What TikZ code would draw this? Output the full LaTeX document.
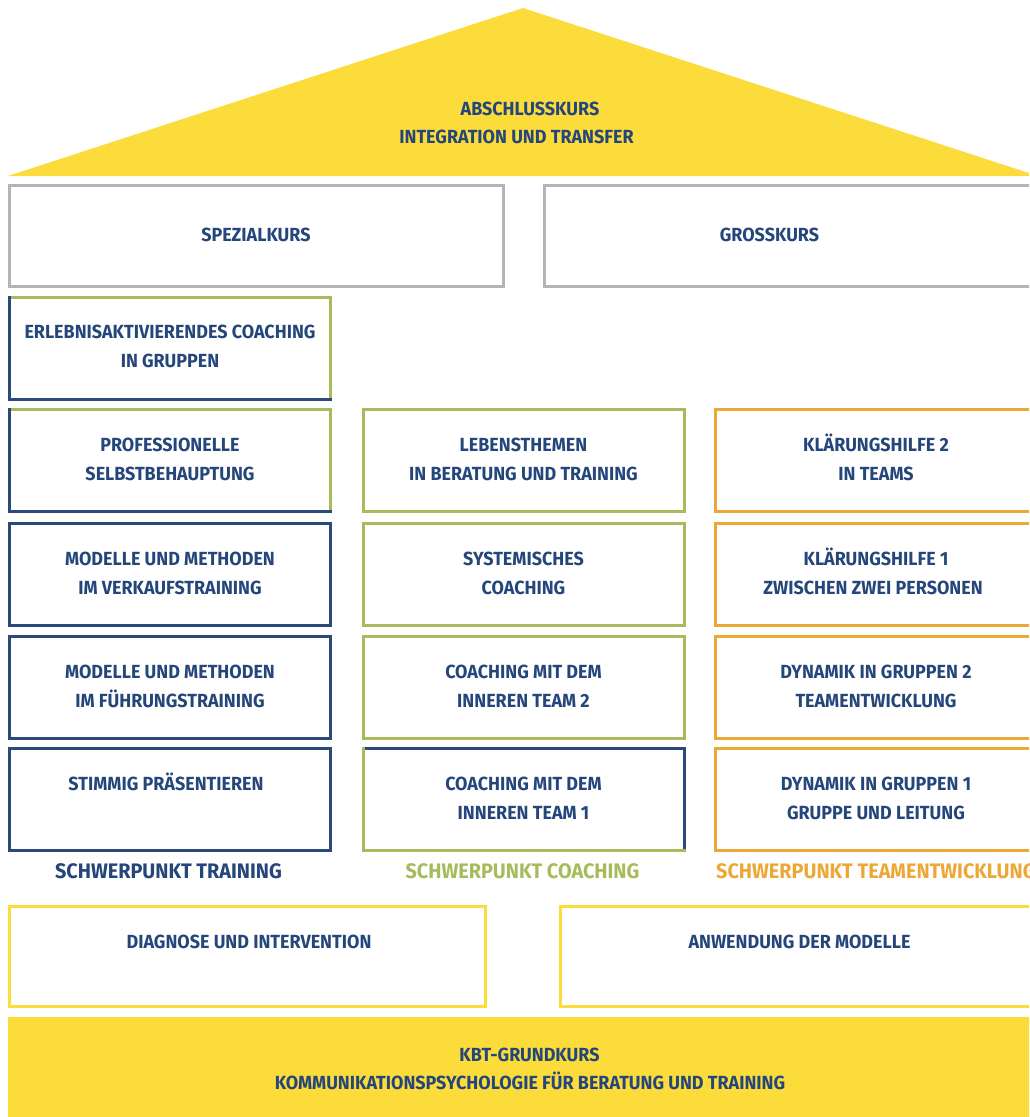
\documentclass[tikz,border=0pt]{standalone}
\usepackage{fontspec}
\setmainfont{Fira Sans}[FakeStretch=0.945]
\definecolor{navy}{HTML}{24467A}
\definecolor{bblue}{HTML}{2A4A7A}
\definecolor{bgreen}{HTML}{A8BB5C}
\definecolor{borange}{HTML}{EDA735}
\definecolor{byellow}{HTML}{FCDC3B}
\definecolor{bgray}{HTML}{B4B4B4}
\begin{document}
\begin{tikzpicture}[x=1pt,y=-1pt,
  box/.style={draw, line width=3pt, inner sep=0pt, outer sep=0pt, minimum width=321pt, minimum height=102pt},
  wbox/.style={box, minimum width=494pt, minimum height=101pt},
  txt/.style={font=\bfseries\fontsize{19}{19}\selectfont, text=navy, anchor=base, inner sep=0pt},
  lab/.style={font=\bfseries\fontsize{21}{21}\selectfont, anchor=base, inner sep=0pt},
  edge/.style={line width=3pt, line cap=rect}]
\useasboundingbox (0,0) rectangle (1029,1117);
\clip (0,0) rectangle (1029,1117);
% roof
\fill[byellow] (8,176) -- (523,8) -- (1038,176) -- cycle;
\node[txt] (r1) at (530,115) {ABSCHLUSSKURS};
\node[txt] (r2) at (516.5,143) {INTEGRATION UND TRANSFER};
% top wide boxes
\node[wbox, draw=bgray] (spez) at (256.5,236) {};
\node[wbox, draw=bgray] (gross) at (791.5,236) {};
\node[txt] at (256,241) {SPEZIALKURS};
\node[txt] at (769.5,241) {GROSSKURS};
% column 1
\node[box, draw=none] (erl) at (170,348) {};
\draw[edge, bgreen] (erl.north west) -- (erl.north east) -- (erl.south east);
\draw[edge, bblue] (erl.north west) -- (erl.south west) -- (erl.south east);
\node[box, draw=none] (prof) at (170,460.5) {};
\draw[edge, bgreen] (prof.north west) -- (prof.north east) -- (prof.south east);
\draw[edge, bblue] (prof.north west) -- (prof.south west) -- (prof.south east);
\node[box, draw=bblue] (verk) at (170,574.5) {};
\node[box, draw=bblue] (fuehr) at (170,687.5) {};
\node[box, draw=bblue] (stimm) at (170,799.5) {};
% column 2
\node[box, draw=bgreen] (leben) at (523.5,460.5) {};
\node[box, draw=bgreen] (sys) at (523.5,574.5) {};
\node[box, draw=bgreen] (teamb) at (523.5,687.5) {};
\node[box, draw=none] (teama) at (523.5,799.5) {};
\draw[edge, bblue] (teama.north west) -- (teama.north east) -- (teama.south east);
\draw[edge, bgreen] (teama.north west) -- (teama.south west) -- (teama.south east);
% column 3
\node[box, draw=borange] (klb) at (876,460.5) {};
\node[box, draw=borange] (kla) at (876,574.5) {};
\node[box, draw=borange] (dynb) at (876,687.5) {};
\node[box, draw=borange] (dyna) at (876,799.5) {};
% texts in boxes
\node[txt] at ([yshift=-41.5pt]erl.north) {ERLEBNISAKTIVIERENDES COACHING};
\node[txt] at ([yshift=-70.5pt]erl.north) {IN GRUPPEN};
\node[txt] at ([yshift=-41.5pt]prof.north) {PROFESSIONELLE};
\node[txt] at ([yshift=-70.5pt]prof.north) {SELBSTBEHAUPTUNG};
\node[txt] at ([yshift=-41.5pt]verk.north) {MODELLE UND METHODEN};
\node[txt] at ([yshift=-70.5pt]verk.north) {IM VERKAUFSTRAINING};
\node[txt] at ([yshift=-41.5pt]fuehr.north) {MODELLE UND METHODEN};
\node[txt] at ([yshift=-70.5pt]fuehr.north) {IM FÜHRUNGSTRAINING};
\node[txt] at ([xshift=-4pt,yshift=-41.5pt]stimm.north) {STIMMIG PRÄSENTIEREN};
\node[txt] at ([yshift=-41.5pt]leben.north) {LEBENSTHEMEN};
\node[txt] at ([yshift=-70.5pt]leben.north) {IN BERATUNG UND TRAINING};
\node[txt] at ([yshift=-41.5pt]sys.north) {SYSTEMISCHES};
\node[txt] at ([yshift=-70.5pt]sys.north) {COACHING};
\node[txt] at ([yshift=-41.5pt]teamb.north) {COACHING MIT DEM};
\node[txt] at ([yshift=-70.5pt]teamb.north) {INNEREN TEAM 2};
\node[txt] at ([yshift=-41.5pt]teama.north) {COACHING MIT DEM};
\node[txt] at ([yshift=-70.5pt]teama.north) {INNEREN TEAM 1};
\node[txt] at ([yshift=-41.5pt]klb.north) {KLÄRUNGSHILFE 2};
\node[txt] at ([yshift=-70.5pt]klb.north) {IN TEAMS};
\node[txt] at ([yshift=-41.5pt]kla.north) {KLÄRUNGSHILFE 1};
\node[txt] at ([xshift=-3pt,yshift=-70.5pt]kla.north) {ZWISCHEN ZWEI PERSONEN};
\node[txt] at ([yshift=-41.5pt]dynb.north) {DYNAMIK IN GRUPPEN 2};
\node[txt] at ([yshift=-70.5pt]dynb.north) {TEAMENTWICKLUNG};
\node[txt] at ([yshift=-41.5pt]dyna.north) {DYNAMIK IN GRUPPEN 1};
\node[txt] at ([yshift=-70.5pt]dyna.north) {GRUPPE UND LEITUNG};
% column labels
\node[lab, text=navy] (l1) at (168.5,878) {SCHWERPUNKT TRAINING};
\node[lab, text=bgreen] (l2) at (522.5,878) {SCHWERPUNKT COACHING};
\node[lab, text=borange, anchor=base west] (l3) at (716,878) {SCHWERPUNKT TEAMENTWICKLUNG};
% bottom boxes
\node[box, draw=byellow, minimum width=476pt, minimum height=100pt] (diag) at (247.5,956.5) {};
\node[box, draw=byellow, minimum width=478pt, minimum height=100pt] (anw) at (799.5,956.5) {};
\node[txt] at ([xshift=1.5pt,yshift=-41.5pt]diag.north) {DIAGNOSE UND INTERVENTION};
\node[txt] at ([yshift=-41.5pt]anw.north) {ANWENDUNG DER MODELLE};
% base
\node[fill=byellow, draw=none, inner sep=0pt, outer sep=0pt, minimum width=1032pt, minimum height=108pt] (kbt) at (524,1071) {};
\node[txt] at (529.5,1061) {KBT-GRUNDKURS};
\node[txt] at (530,1089) {KOMMUNIKATIONSPSYCHOLOGIE FÜR BERATUNG UND TRAINING};
\end{tikzpicture}
\end{document}
